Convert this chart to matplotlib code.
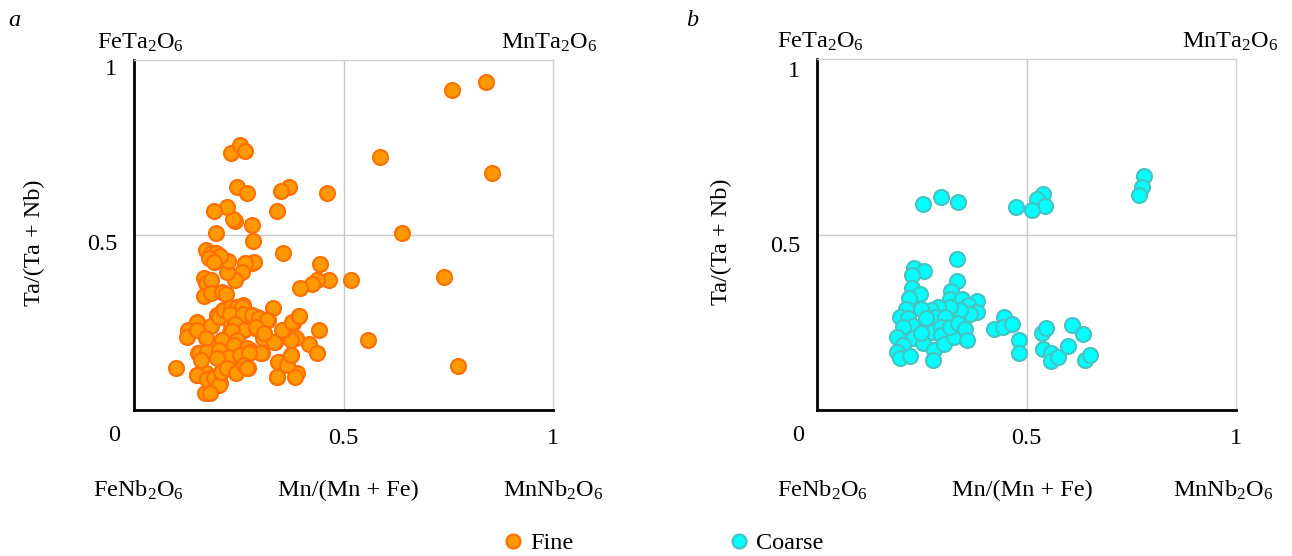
import matplotlib
matplotlib.use("Agg")
import matplotlib.pyplot as plt
from matplotlib.transforms import ScaledTranslation
from matplotlib.lines import Line2D

plt.rcParams['font.family'] = ['Liberation Serif', 'DejaVu Serif']
plt.rcParams['mathtext.fontset'] = 'custom'
plt.rcParams['mathtext.rm'] = 'Liberation Serif'
plt.rcParams['mathtext.it'] = 'Liberation Serif:italic'

# ---- data: Fine (panel a) ----
fine_x = [0.839, 0.758, 0.588, 0.855, 0.640, 0.739, 0.559, 0.773, 0.517, 0.461,
          0.465, 0.445, 0.436, 0.426, 0.397, 0.441, 0.417, 0.437, 0.393, 0.380,
          0.386, 0.374, 0.356, 0.371, 0.351, 0.342, 0.356, 0.332, 0.336, 0.320,
          0.308, 0.310, 0.304, 0.375, 0.347, 0.366, 0.390, 0.384, 0.342, 0.100,
          0.282, 0.284, 0.281, 0.287, 0.265, 0.258, 0.242, 0.223, 0.225, 0.242,
          0.237, 0.223, 0.191, 0.195, 0.246, 0.270, 0.232, 0.253, 0.266, 0.171,
          0.183, 0.195, 0.205, 0.179, 0.191, 0.167, 0.171, 0.183, 0.167, 0.183,
          0.211, 0.219, 0.261, 0.237, 0.213, 0.197, 0.229, 0.253, 0.277, 0.293,
          0.317, 0.150, 0.130, 0.126, 0.150, 0.184, 0.229, 0.245, 0.261, 0.289,
          0.309, 0.209, 0.245, 0.229, 0.173, 0.307, 0.335, 0.354, 0.376, 0.394,
          0.153, 0.173, 0.201, 0.229, 0.261, 0.273, 0.305, 0.150, 0.173, 0.189,
          0.205, 0.177, 0.169, 0.221, 0.241, 0.261, 0.273, 0.344, 0.364, 0.374,
          0.341, 0.277, 0.203, 0.215, 0.231, 0.246, 0.258, 0.229, 0.261, 0.282,
          0.298, 0.318, 0.242, 0.262, 0.290, 0.310, 0.235, 0.211, 0.246, 0.238,
          0.270, 0.278, 0.302, 0.155, 0.175, 0.203, 0.227, 0.254, 0.274, 0.159,
          0.199, 0.151, 0.175, 0.191, 0.203, 0.207, 0.223, 0.243, 0.262, 0.270,
          0.181]
fine_y = [0.937, 0.914, 0.722, 0.676, 0.507, 0.381, 0.200, 0.127, 0.371, 0.619,
          0.371, 0.416, 0.371, 0.360, 0.348, 0.229, 0.190, 0.162, 0.269, 0.250,
          0.207, 0.200, 0.450, 0.638, 0.626, 0.569, 0.229, 0.292, 0.195, 0.257,
          0.219, 0.205, 0.162, 0.157, 0.138, 0.129, 0.107, 0.093, 0.093, 0.121,
          0.529, 0.484, 0.421, 0.424, 0.421, 0.395, 0.371, 0.393, 0.427, 0.540,
          0.546, 0.581, 0.569, 0.507, 0.638, 0.619, 0.733, 0.757, 0.740, 0.457,
          0.448, 0.450, 0.440, 0.433, 0.422, 0.377, 0.362, 0.371, 0.326, 0.333,
          0.336, 0.331, 0.300, 0.290, 0.286, 0.271, 0.276, 0.276, 0.271, 0.267,
          0.257, 0.252, 0.230, 0.209, 0.230, 0.240, 0.252, 0.243, 0.229, 0.233,
          0.224, 0.200, 0.200, 0.224, 0.205, 0.205, 0.195, 0.229, 0.252, 0.269,
          0.162, 0.167, 0.171, 0.152, 0.162, 0.167, 0.162, 0.100, 0.105, 0.095,
          0.076, 0.048, 0.049, 0.124, 0.110, 0.129, 0.119, 0.138, 0.129, 0.157,
          0.095, 0.171, 0.267, 0.286, 0.295, 0.295, 0.295, 0.274, 0.274, 0.271,
          0.264, 0.257, 0.245, 0.229, 0.236, 0.221, 0.226, 0.200, 0.200, 0.186,
          0.176, 0.167, 0.162, 0.162, 0.167, 0.171, 0.152, 0.157, 0.164, 0.143,
          0.148, 0.100, 0.090, 0.092, 0.071, 0.110, 0.119, 0.105, 0.129, 0.119,
          0.048]

# ---- data: Coarse (panel b) ----
coarse_x = [0.781, 0.775, 0.769, 0.540, 0.524, 0.545, 0.514, 0.476, 0.337, 0.295,
            0.253, 0.335, 0.335, 0.231, 0.256, 0.226, 0.226, 0.246, 0.220, 0.319,
            0.317, 0.345, 0.382, 0.361, 0.381, 0.365, 0.341, 0.317, 0.288, 0.273,
            0.249, 0.212, 0.198, 0.217, 0.229, 0.205, 0.190, 0.228, 0.206, 0.190,
            0.198, 0.223, 0.253, 0.261, 0.275, 0.281, 0.305, 0.297, 0.297, 0.279,
            0.277, 0.303, 0.327, 0.317, 0.337, 0.353, 0.357, 0.422, 0.447, 0.445,
            0.466, 0.483, 0.483, 0.536, 0.547, 0.539, 0.559, 0.559, 0.574, 0.608,
            0.634, 0.598, 0.640, 0.652, 0.249, 0.261]
coarse_y = [0.667, 0.636, 0.612, 0.615, 0.600, 0.581, 0.570, 0.577, 0.593, 0.608,
            0.587, 0.431, 0.368, 0.405, 0.397, 0.384, 0.347, 0.330, 0.318, 0.340,
            0.315, 0.315, 0.310, 0.299, 0.280, 0.273, 0.285, 0.294, 0.294, 0.285,
            0.287, 0.287, 0.266, 0.261, 0.239, 0.236, 0.209, 0.204, 0.185, 0.164,
            0.147, 0.154, 0.192, 0.236, 0.223, 0.266, 0.266, 0.237, 0.214, 0.171,
            0.142, 0.188, 0.209, 0.237, 0.249, 0.230, 0.199, 0.232, 0.264, 0.237,
            0.245, 0.199, 0.163, 0.220, 0.233, 0.173, 0.161, 0.141, 0.152, 0.242,
            0.216, 0.182, 0.142, 0.157, 0.218, 0.261]

series_labels = ["Fine", "Coarse"]
fine_face, fine_edge = "#FF9900", "#FF7000"
coarse_face, coarse_edge = "#00FFFF", "#45C4C4"

FS = 17.5
W, H = 1292, 556
fig = plt.figure(figsize=(W / 100, H / 100), dpi=100)

def px_ax(l, r, t, b):
    return [l / W, (H - b) / H, (r - l) / W, (b - t) / H]

ax_a = fig.add_axes(px_ax(134, 553, 60, 410))
ax_b = fig.add_axes(px_ax(817, 1236, 59, 410))

def style(ax, x, y, face, edge, ylab_dy, x0_dx):
    ax.set_xlim(0, 1)
    ax.set_ylim(0, 1)
    ax.axvline(0.5, color="#c8c8c8", lw=1, zorder=0)
    ax.axhline(0.5, color="#c8c8c8", lw=1, zorder=0)
    ax.scatter(x, y, s=115, c=face, edgecolors=edge, linewidths=1.6, zorder=3)
    for s in ["top", "right"]:
        ax.spines[s].set_color("#d0d0d0")
        ax.spines[s].set_linewidth(1)
    for s in ["left", "bottom"]:
        ax.spines[s].set_color("black")
        ax.spines[s].set_linewidth(2)
    ax.set_xticks([0.5, 1])
    ax.set_xticklabels(["0.5", "1"])
    ax.set_yticks([0.5, 1])
    ax.set_yticklabels(["0.5", "1"])
    ax.tick_params(length=0, labelsize=FS, pad=12)
    ax.tick_params(axis="x", pad=13)
    off = ScaledTranslation(0, -ylab_dy / 100, fig.dpi_scale_trans)
    for lab in ax.get_yticklabels():
        lab.set_transform(lab.get_transform() + off)
    ax.text(x0_dx, -0.072, "0", transform=ax.transAxes, ha="center", va="center", fontsize=FS)

style(ax_a, fine_x, fine_y, fine_face, fine_edge, 7, -0.048)
style(ax_b, coarse_x, coarse_y, coarse_face, coarse_edge, 10, -0.045)

def corner_labels(ax, tl, tr, bl, bm, br, yl_x):
    kw = dict(transform=ax.transAxes, fontsize=FS, va="center")
    ax.text(tl, 1.05, r"FeTa$_2$O$_6$", ha="left", **kw)
    ax.text(tr, 1.05, r"MnTa$_2$O$_6$", ha="right", **kw)
    ax.text(bl, -0.229, r"FeNb$_2$O$_6$", ha="left", **kw)
    ax.text(bm, -0.229, "Mn/(Mn + Fe)", ha="center", **kw)
    ax.text(br, -0.229, r"MnNb$_2$O$_6$", ha="right", **kw)
    ax.text(yl_x, 0.478, "Ta/(Ta + Nb)", transform=ax.transAxes, fontsize=FS,
            rotation=90, ha="center", va="center")

corner_labels(ax_a, -0.088, 1.105, -0.098, 0.511, 1.12, -0.237)
corner_labels(ax_b, -0.095, 1.1, -0.095, 0.49, 1.09, -0.227)

fig.text(14 / W, 1 - 20 / H, "a", fontsize=FS, style="italic", ha="center", va="center")
fig.text(692 / W, 1 - 20 / H, "b", fontsize=FS, style="italic", ha="center", va="center")

handles = [
    Line2D([], [], ls="none", marker="o", markersize=10, markerfacecolor=fine_face,
           markeredgecolor=fine_edge, markeredgewidth=1.6),
    Line2D([], [], ls="none", marker="o", markersize=10, markerfacecolor=coarse_face,
           markeredgecolor=coarse_edge, markeredgewidth=1.6),
]
fig.legend(handles, series_labels, loc="center", bbox_to_anchor=(662 / W, 1 - 543 / H),
           ncol=2, frameon=False, fontsize=FS, columnspacing=6.3, handletextpad=0.2,
           handlelength=1.0)

fig.savefig("out.png", dpi=100)
